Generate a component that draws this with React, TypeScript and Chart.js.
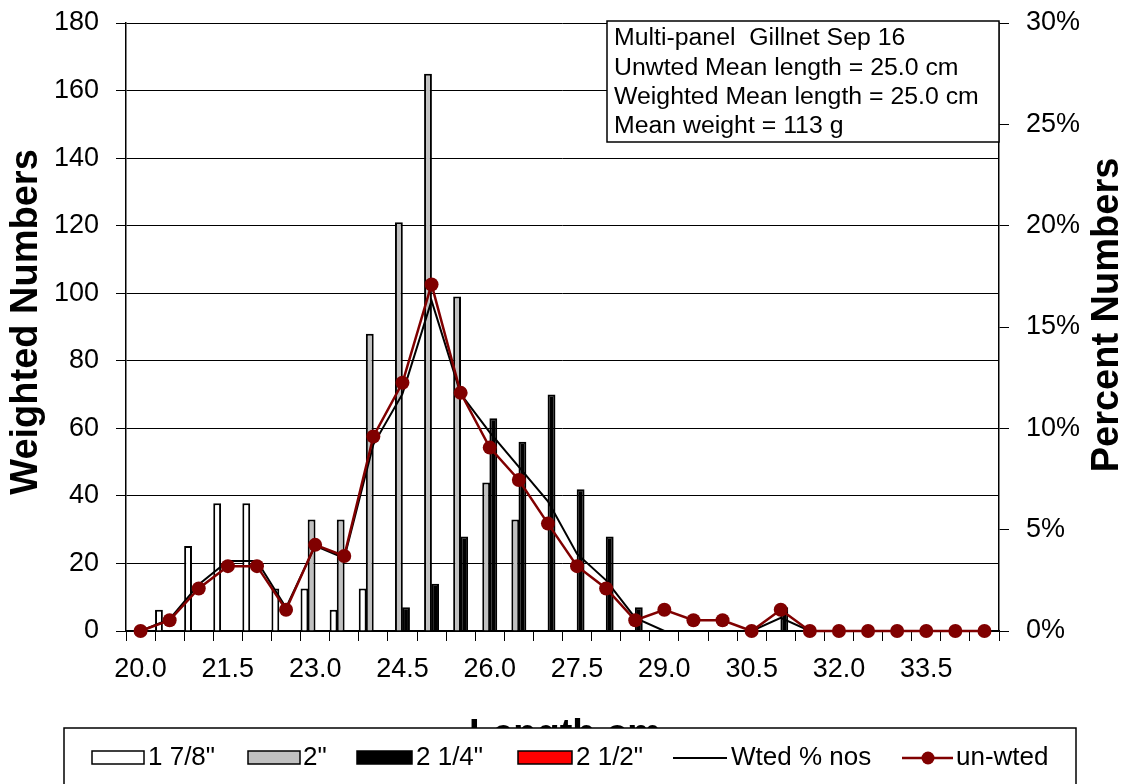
import React, { useEffect, useRef } from 'react';
import { Chart, registerables } from 'chart.js';
Chart.register(...registerables);

const lengthLabels = ['20.0','20.5','21.0','21.5','22.0','22.5','23.0','23.5','24.0','24.5','25.0','25.5','26.0','26.5','27.0','27.5','28.0','28.5','29.0','29.5','30.0','30.5','31.0','31.5','32.0','32.5','33.0','33.5','34.0','34.5'];

const mesh178 = [0, 6.3, 25.2, 37.8, 37.8, 12.6, 12.6, 6.3, 12.6, 0, 0, 0, 0, 0, 0, 0, 0, 0, 0, 0, 0, 0, 0, 0, 0, 0, 0, 0, 0, 0];
const mesh2 = [0, 0, 0, 0, 0, 0, 33, 33, 88, 121, 165, 99, 44, 33, 0, 0, 0, 0, 0, 0, 0, 0, 0, 0, 0, 0, 0, 0, 0, 0];
const mesh214 = [0, 0, 0, 0, 0, 0, 0, 0, 0, 7, 14, 28, 63, 56, 70, 42, 28, 7, 0, 0, 0, 0, 7, 0, 0, 0, 0, 0, 0, 0];
const mesh212 = [0, 0, 0, 0, 0, 0, 0, 0, 0, 0, 0, 0, 0, 0, 0, 0, 0, 0, 0, 0, 0, 0, 0, 0, 0, 0, 0, 0, 0, 0];
const wtedPct = [0, 0.58, 2.3, 3.45, 3.45, 1.15, 4.2, 3.6, 9.2, 11.7, 16.3, 11.7, 9.8, 8.1, 6.4, 3.8, 2.5, 0.65, 0, 0, 0, 0, 0.65, 0, 0, 0, 0, 0, 0, 0];
const unwtedPct = [0, 0.53, 2.1, 3.2, 3.2, 1.05, 4.25, 3.7, 9.6, 12.25, 17.1, 11.75, 9.05, 7.45, 5.3, 3.2, 2.1, 0.53, 1.05, 0.53, 0.53, 0, 1.05, 0, 0, 0, 0, 0, 0, 0];

const leftTicks = [0, 20, 40, 60, 80, 100, 120, 140, 160, 180];
const rightTicks = [0, 5, 10, 15, 20, 25, 30];
const infoLines = ['Multi-panel  Gillnet Sep 16', 'Unwted Mean length = 25.0 cm', 'Weighted Mean length = 25.0 cm', 'Mean weight = 113 g'];
const seriesNames = ['1 7/8"', '2"', '2 1/4"', '2 1/2"', 'Wted % nos', 'un-wted'];

const FONT = '"Liberation Sans", Arial, sans-serif';

const decor = {
  id: 'decor',
  afterDatasetsDraw(chart: any) {
    const c = chart.ctx;
    c.save();
    c.fillStyle = '#fff';
    c.strokeStyle = '#000';
    c.lineWidth = 1.5;
    c.fillRect(607, 21, 392, 121);
    c.strokeRect(607, 21, 392, 121);
    c.fillStyle = '#000';
    c.font = `23px ${FONT}`;
    c.textBaseline = 'middle';
    c.textAlign = 'left';
    infoLines.forEach((t, i) => {
      c.save();
      c.translate(614, 39 + i * 29.2);
      c.scale(1.08, 1);
      c.fillText(t, 0, 0);
      c.restore();
    });
    c.restore();
  },
  afterDraw(chart: any) {
    const c = chart.ctx;
    c.save();
    c.fillStyle = '#000';
    c.font = `bold 38px ${FONT}`;
    c.textAlign = 'center';
    c.textBaseline = 'middle';
    c.save();
    c.translate(27, 322);
    c.rotate(-Math.PI / 2);
    c.fillText('Weighted Numbers', 0, 0);
    c.restore();
    c.save();
    c.translate(1108, 315);
    c.rotate(-Math.PI / 2);
    c.fillText('Percent Numbers', 0, 0);
    c.restore();
    c.textBaseline = 'alphabetic';
    c.fillText('Length cm', 565, 746);

    // legend box
    c.fillStyle = '#fff';
    c.strokeStyle = '#000';
    c.lineWidth = 1.5;
    c.fillRect(64, 728, 1012, 70);
    c.strokeRect(64, 728, 1012, 70);
    const ly = 758;
    const ds = chart.data.datasets;
    const swatches = [
      { x: 92, w: 52, tx: 148 },
      { x: 248, w: 52, tx: 303 },
      { x: 357, w: 55, tx: 416 },
      { x: 518, w: 54, tx: 576 },
    ];
    c.font = `26px ${FONT}`;
    c.textAlign = 'left';
    c.textBaseline = 'middle';
    swatches.forEach((s, i) => {
      c.fillStyle = ds[i].backgroundColor;
      c.fillRect(s.x, ly - 7, s.w, 13);
      c.strokeStyle = '#000';
      c.lineWidth = 1.5;
      c.strokeRect(s.x, ly - 7, s.w, 13);
      c.fillStyle = '#000';
      c.fillText(seriesNames[i], s.tx, ly);
    });
    c.strokeStyle = ds[4].borderColor;
    c.lineWidth = 2;
    c.beginPath();
    c.moveTo(673, ly);
    c.lineTo(727, ly);
    c.stroke();
    c.fillStyle = '#000';
    c.fillText(seriesNames[4], 731, ly);
    c.strokeStyle = ds[5].borderColor;
    c.lineWidth = 2.5;
    c.beginPath();
    c.moveTo(902, ly);
    c.lineTo(953, ly);
    c.stroke();
    c.fillStyle = ds[5].backgroundColor;
    c.beginPath();
    c.arc(928, ly, 6.5, 0, Math.PI * 2);
    c.fill();
    c.fillStyle = '#000';
    c.fillText(seriesNames[5], 956, ly);
    c.restore();
  },
};

export default function App() {
  const ref = useRef<HTMLCanvasElement>(null);
  useEffect(() => {
    const canvas = ref.current;
    if (!canvas) return;
    const barCommon = {
      type: 'bar' as const,
      yAxisID: 'y',
      borderColor: '#000',
      borderWidth: 2,
      categoryPercentage: 0.98,
      barPercentage: 1.1,
      order: 3,
    };
    const chart = new Chart(canvas, {
      type: 'bar',
      data: {
        labels: lengthLabels,
        datasets: [
          { ...barCommon, label: seriesNames[0], data: mesh178, backgroundColor: '#ffffff' },
          { ...barCommon, label: seriesNames[1], data: mesh2, backgroundColor: '#c0c0c0' },
          { ...barCommon, label: seriesNames[2], data: mesh214, backgroundColor: '#000000' },
          { ...barCommon, label: seriesNames[3], data: mesh212, backgroundColor: '#ff0000' },
          {
            type: 'line', label: seriesNames[4], data: wtedPct, yAxisID: 'y1',
            borderColor: '#000', backgroundColor: '#000', borderWidth: 2, pointRadius: 0,
            tension: 0, order: 1, clip: false,
          } as any,
          {
            type: 'line', label: seriesNames[5], data: unwtedPct, yAxisID: 'y1',
            borderColor: '#800000', backgroundColor: '#800000', borderWidth: 2.5,
            pointRadius: 7, pointBorderWidth: 0, pointBackgroundColor: '#800000',
            tension: 0, order: 0, clip: false,
          } as any,
        ],
      },
      options: {
        animation: false,
        responsive: false,
        maintainAspectRatio: false,
        devicePixelRatio: 1,
        layout: { padding: { left: 0, right: 0, top: 23, bottom: 93 } },
        plugins: { legend: { display: false }, tooltip: { enabled: false }, title: { display: false } },
        scales: {
          x: {
            type: 'category',
            offset: true,
            grid: { display: true, drawOnChartArea: false, drawTicks: true, tickLength: 10, color: '#000', lineWidth: 1, offset: true },
            border: { display: true, color: '#000', width: 1.5 },
            ticks: {
              autoSkip: false, maxRotation: 0, minRotation: 0, color: '#000', padding: 12,
              font: { family: FONT, size: 27 },
              callback: (_v: any, i: number) => (i % 3 === 0 ? lengthLabels[i] : ''),
            },
            afterFit: (s: any) => { s.height = 60; s.paddingLeft = 0; s.paddingRight = 0; },
          },
          y: {
            position: 'left',
            min: 0, max: 180,
            afterBuildTicks: (s: any) => { s.ticks = leftTicks.map((v) => ({ value: v })); },
            grid: { color: '#000', lineWidth: 1, tickLength: 10, drawTicks: true },
            border: { display: true, color: '#000', width: 1.5 },
            ticks: { color: '#000', padding: 17, font: { family: FONT, size: 27 } },
            afterFit: (s: any) => { s.width = 126; s.paddingTop = 0; s.paddingBottom = 0; },
          },
          y1: {
            position: 'right',
            min: 0, max: 30,
            afterBuildTicks: (s: any) => { s.ticks = rightTicks.map((v) => ({ value: v })); },
            grid: { drawOnChartArea: false, color: '#000', lineWidth: 1, tickLength: 10, drawTicks: true },
            border: { display: true, color: '#000', width: 1.5 },
            ticks: { color: '#000', padding: 17, font: { family: FONT, size: 27 }, callback: (v: any) => `${v}%` },
            afterFit: (s: any) => { s.width = 128; s.paddingTop = 0; s.paddingBottom = 0; },
          },
        },
      },
      plugins: [decor],
    } as any);
    return () => chart.destroy();
  }, []);
  return (
    <div style={{ position: 'fixed', left: 0, top: 0, width: 1127, height: 784, background: '#fff', overflow: 'hidden' }}>
      <canvas ref={ref} width={1127} height={784} style={{ width: 1127, height: 784, display: 'block' }} />
    </div>
  );
}
